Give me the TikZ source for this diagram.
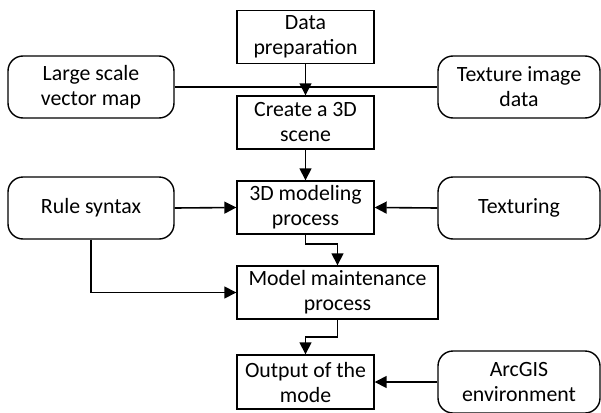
\documentclass[tikz,border=0pt]{standalone}
\usepackage{fontspec}
\setmainfont{Carlito}
\usetikzlibrary{arrows.meta}
\begin{document}
\begin{tikzpicture}[x=1pt,y=-1pt,
  every node/.style={font=\fontsize{21.8}{25}\selectfont, align=center, inner sep=0pt},
  procbox/.style={draw, line width=1.4pt, minimum width=137pt, minimum height=53pt},
  inbox/.style={draw, line width=1.4pt, rounded corners=15pt, minimum width=166pt, minimum height=62pt},
  conn/.style={line width=1.6pt},
  arr/.style={conn, -{Triangle[length=12pt,width=12pt]}}]
\useasboundingbox (0,0) rectangle (601,412);
\node[procbox] (data) at (305.5,37) {Data\\preparation};
\node[procbox] (create) at (305.5,122.5) {Create a 3D\\scene};
\node[procbox] (model) at (305.5,207.5) {3D modeling\\process};
\node[procbox, minimum width=201pt] (maint) at (337.5,292.5) {Model maintenance\\process};
\node[procbox, minimum height=54pt] (out) at (305.5,382) {Output of the\\mode};
\node[inbox] (vec) at (91,87) {Large scale\\vector map};
\node[inbox, minimum width=162pt] (tex) at (519,87) {Texture image\\data};
\node[inbox] (rule) at (91,208) {Rule syntax};
\node[inbox, minimum width=162pt] (txt) at (519,208) {Texturing};
\node[inbox, minimum width=162pt] (arc) at (519,382) {ArcGIS\\environment};
\coordinate (b1) at (305.5,244);
\coordinate (b2) at (337.5,337);
\draw[conn] (vec.east) -- (tex.west);
\draw[arr] (data) -- (create);
\draw[arr] (create) -- (model);
\draw[arr] (rule.east) -- (model.west);
\draw[arr] (txt.west) -- (model.east);
\draw[arr] (model.south) -- (b1) -| (maint.north);
\draw[arr] (rule.south) |- (maint.west);
\draw[arr] (maint.south) -- (b2) -| (out.north);
\draw[arr] (arc.west) -- (out.east);
\end{tikzpicture}
\end{document}
